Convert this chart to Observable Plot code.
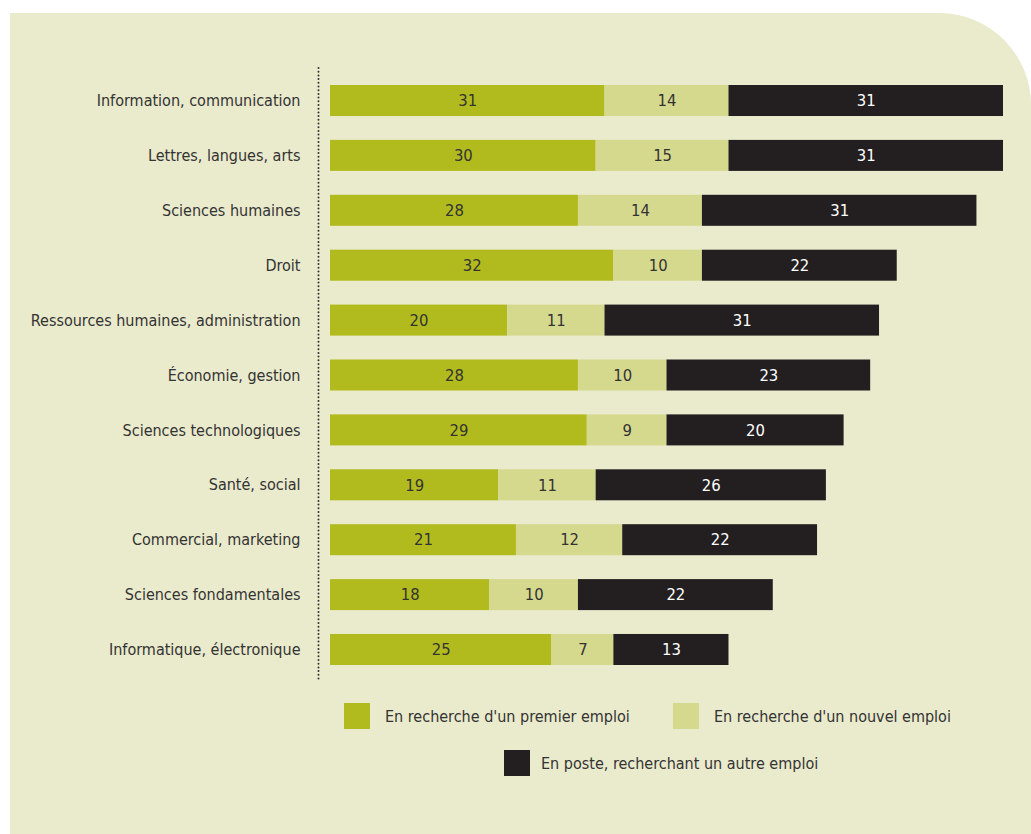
<!DOCTYPE html>
<html>
<head>
<meta charset="utf-8">
<script src="https://cdn.jsdelivr.net/npm/d3@7"></script>
<script src="https://cdn.jsdelivr.net/npm/@observablehq/plot@0.6"></script>
<style>
  html, body { margin: 0; padding: 0; background: #ffffff; }
  body { width: 1031px; height: 834px; position: relative; overflow: hidden;
         font-family: "DejaVu Sans Condensed", "DejaVu Sans", sans-serif; font-stretch: condensed; color: #333; }
  #panel { position: absolute; left: 10px; top: 13px; width: 1021px; height: 821px;
           background: #eaeacc; border-top-right-radius: 92px; }
  #chart { position: absolute; left: 0; top: 0; }
  #legend { position: absolute; left: 0; top: 690px; width: 1031px; font-size: 16px; color: #333; }
  .item { position: absolute; display: flex; align-items: center; white-space: nowrap; }
  .sw { width: 26px; height: 26px; }
</style>
</head>
<body>
<div id="panel"></div>
<div id="chart"></div>
<div id="legend"></div>
<script>
const categories = [
  "Information, communication",
  "Lettres, langues, arts",
  "Sciences humaines",
  "Droit",
  "Ressources humaines, administration",
  "Économie, gestion",
  "Sciences technologiques",
  "Santé, social",
  "Commercial, marketing",
  "Sciences fondamentales",
  "Informatique, électronique"
];
const seriesNames = [
  "En recherche d'un premier emploi",
  "En recherche d'un nouvel emploi",
  "En poste, recherchant un autre emploi"
];
const premierEmploi = [31, 30, 28, 32, 20, 28, 29, 19, 21, 18, 25];
const nouvelEmploi  = [14, 15, 14, 10, 11, 10,  9, 11, 12, 10,  7];
const enPoste       = [31, 31, 31, 22, 31, 23, 20, 26, 22, 22, 13];
const seriesColors = ["#b2bb1e", "#d5d98e", "#231f20"];
const labelColors = ["#333333", "#333333", "#ffffff"];

const seriesValues = [premierEmploi, nouvelEmploi, enPoste];
const data = [];
categories.forEach((cat, i) => {
  seriesNames.forEach((s, j) => {
    data.push({cat, series: s, idx: j, value: seriesValues[j][i]});
  });
});

const font = '"DejaVu Sans Condensed", "DejaVu Sans", sans-serif';

const chart = Plot.plot({
  width: 1031,
  height: 690,
  marginLeft: 330,
  marginRight: 28,
  marginTop: 85,
  marginBottom: 25,
  style: {background: "transparent", fontFamily: font, fontSize: "16px", color: "#333"},
  x: {domain: [0, 76], axis: null},
  y: {domain: categories, paddingInner: 0.435, paddingOuter: 0, align: 0.5, round: false, label: null, axis: null},
  color: {type: "identity"},
  marks: [
    Plot.ruleX([0], {dx: -12, stroke: "#333", strokeWidth: 2, strokeDasharray: "0,3.7",
                     strokeLinecap: "round", insetTop: -17, insetBottom: -17}),
    Plot.barX(data, Plot.stackX({x: "value", y: "cat", z: "series", fill: d => seriesColors[d.idx]})),
    Plot.textX(data, Plot.stackX({x: "value", y: "cat", z: "series", text: d => String(d.value),
                     fill: d => labelColors[d.idx], fontSize: 16.5})),
    Plot.axisY({tickSize: 0, tickPadding: 30, fontSize: 16, fill: "#333", label: null})
  ]
});
document.getElementById("chart").appendChild(chart);

// Legend
const legend = document.getElementById("legend");
const placements = [
  {k: 0, left: 344, top: 13, gap: 15},
  {k: 1, left: 673, top: 13, gap: 15},
  {k: 2, left: 504, top: 60, gap: 11}
];
placements.forEach(p => {
  const it = document.createElement("div");
  it.className = "item";
  it.style.left = p.left + "px";
  it.style.top = p.top + "px";
  const sw = document.createElement("div");
  sw.className = "sw";
  sw.style.background = seriesColors[p.k];
  sw.style.marginRight = p.gap + "px";
  const tx = document.createElement("span");
  tx.textContent = seriesNames[p.k];
  it.appendChild(sw);
  it.appendChild(tx);
  legend.appendChild(it);
});
</script>
</body>
</html>
